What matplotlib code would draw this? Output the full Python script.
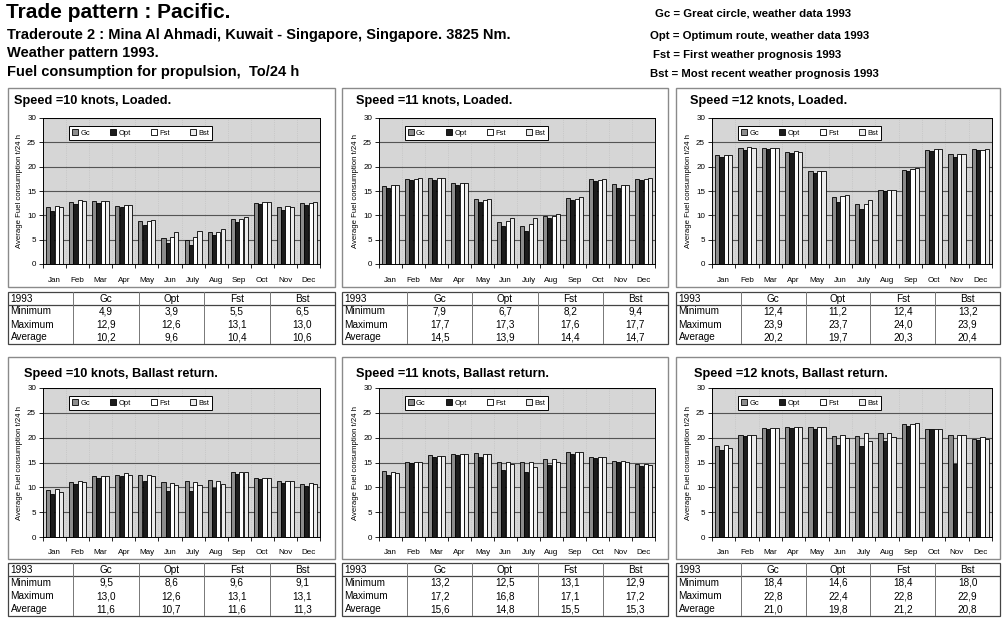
import matplotlib
matplotlib.use('Agg')
import matplotlib.pyplot as plt
from matplotlib.patches import Rectangle
import numpy as np

plt.rcParams['font.family'] = ['Liberation Sans', 'DejaVu Sans']

# ── data ──
months = ['Jan', 'Feb', 'Mar', 'Apr', 'May', 'Jun', 'July', 'Aug', 'Sep', 'Oct', 'Nov', 'Dec']
series = ['Gc', 'Opt', 'Fst', 'Bst']
row_labels = ['Minimum', 'Maximum', 'Average']

titles = [
    'Speed =10 knots, Loaded.', 'Speed =11 knots, Loaded.', 'Speed =12 knots, Loaded.',
    'Speed =10 knots, Ballast return.', 'Speed =11 knots, Ballast return.', 'Speed =12 knots, Ballast return.',
]

# monthly values (Gc, Opt, Fst, Bst)
l10_gc = [11.8, 12.8, 12.9, 12.0, 8.9, 5.3, 4.9, 6.5, 9.2, 12.6, 11.8, 12.6]
l10_opt = [10.9, 12.3, 12.6, 11.8, 8.1, 4.4, 3.9, 5.9, 8.7, 12.3, 11.1, 12.1]
l10_fst = [12.0, 13.1, 12.9, 12.2, 8.8, 5.6, 5.5, 6.6, 9.3, 12.8, 11.9, 12.6]
l10_bst = [11.8, 12.9, 13.0, 12.1, 9.0, 6.5, 6.8, 7.1, 9.7, 12.8, 11.8, 12.8]

l11_gc = [16.1, 17.5, 17.7, 16.6, 13.3, 8.6, 7.9, 9.9, 13.5, 17.4, 16.5, 17.5]
l11_opt = [15.6, 17.2, 17.3, 16.3, 12.7, 7.8, 6.7, 9.5, 13.2, 17.0, 15.7, 17.2]
l11_fst = [16.3, 17.4, 17.6, 16.6, 13.2, 8.9, 8.2, 9.9, 13.4, 17.3, 16.3, 17.4]
l11_bst = [16.3, 17.6, 17.7, 16.6, 13.4, 9.4, 9.4, 10.3, 13.7, 17.4, 16.3, 17.6]

l12_gc = [22.3, 23.9, 23.9, 23.0, 19.2, 13.8, 12.4, 15.2, 19.4, 23.5, 22.7, 23.7]
l12_opt = [21.9, 23.4, 23.7, 22.8, 18.7, 12.8, 11.2, 14.9, 19.2, 23.2, 22.0, 23.5]
l12_fst = [22.5, 24.0, 23.9, 23.2, 19.2, 14.0, 12.4, 15.2, 19.6, 23.7, 22.7, 23.5]
l12_bst = [22.3, 23.9, 23.9, 23.1, 19.2, 14.1, 13.2, 15.2, 19.8, 23.7, 22.6, 23.7]

b10_gc = [9.5, 11.1, 12.2, 12.5, 12.5, 11.0, 11.2, 11.4, 13.0, 11.9, 11.2, 10.7]
b10_opt = [8.6, 10.7, 11.9, 12.3, 11.3, 9.2, 9.2, 9.9, 12.6, 11.7, 10.9, 10.2]
b10_fst = [9.6, 11.3, 12.2, 12.8, 12.5, 10.9, 11.1, 11.3, 13.1, 11.9, 11.3, 10.9]
b10_bst = [9.1, 11.1, 12.2, 12.5, 12.3, 10.5, 10.4, 10.7, 13.1, 11.9, 11.3, 10.7]

b11_gc = [13.2, 15.2, 16.5, 16.8, 17.0, 15.2, 15.2, 15.7, 17.2, 16.2, 15.4, 14.7]
b11_opt = [12.5, 14.9, 16.1, 16.6, 16.1, 13.4, 13.0, 14.4, 16.8, 15.9, 15.1, 14.2]
b11_fst = [13.1, 15.2, 16.4, 16.8, 16.8, 15.1, 15.1, 15.7, 17.1, 16.2, 15.4, 14.7]
b11_bst = [12.9, 15.2, 16.4, 16.8, 16.8, 14.6, 14.1, 15.1, 17.2, 16.2, 15.2, 14.4]

b12_gc = [18.4, 20.5, 21.9, 22.1, 22.1, 20.3, 20.3, 20.9, 22.8, 21.8, 20.5, 19.8]
b12_opt = [17.6, 20.3, 21.7, 21.9, 21.7, 18.6, 18.3, 19.3, 22.4, 21.7, 14.6, 19.5]
b12_fst = [18.5, 20.6, 21.9, 22.1, 22.2, 20.5, 21.0, 21.0, 22.8, 21.8, 20.6, 20.1]
b12_bst = [18.0, 20.5, 21.9, 22.1, 22.2, 20.0, 19.3, 20.1, 22.9, 21.8, 20.6, 19.8]

# summary tables: rows Minimum / Maximum / Average, cols Gc Opt Fst Bst
l10_tab = [[4.9, 3.9, 5.5, 6.5], [12.9, 12.6, 13.1, 13.0], [10.2, 9.6, 10.4, 10.6]]
l11_tab = [[7.9, 6.7, 8.2, 9.4], [17.7, 17.3, 17.6, 17.7], [14.5, 13.9, 14.4, 14.7]]
l12_tab = [[12.4, 11.2, 12.4, 13.2], [23.9, 23.7, 24.0, 23.9], [20.2, 19.7, 20.3, 20.4]]
b10_tab = [[9.5, 8.6, 9.6, 9.1], [13.0, 12.6, 13.1, 13.1], [11.6, 10.7, 11.6, 11.3]]
b11_tab = [[13.2, 12.5, 13.1, 12.9], [17.2, 16.8, 17.1, 17.2], [15.6, 14.8, 15.5, 15.3]]
b12_tab = [[18.4, 14.6, 18.4, 18.0], [22.8, 22.4, 22.8, 22.9], [21.0, 19.8, 21.2, 20.8]]

panels = [
    (l10_gc, l10_opt, l10_fst, l10_bst), (l11_gc, l11_opt, l11_fst, l11_bst),
    (l12_gc, l12_opt, l12_fst, l12_bst), (b10_gc, b10_opt, b10_fst, b10_bst),
    (b11_gc, b11_opt, b11_fst, b11_bst), (b12_gc, b12_opt, b12_fst, b12_bst),
]
tables = [l10_tab, l11_tab, l12_tab, b10_tab, b11_tab, b12_tab]

# ── layout (pixel coords, y from top) ──
W, H = 1005, 621
BAR_COLORS = ['#8c8c8c', '#1c1c1c', '#ffffff', '#ebebeb']
col_box = [(8, 335), (342, 668), (676, 1000)]
col_ax = [(43, 320), (379, 655), (712, 992)]
title_x = [[14, 356, 690], [24, 356, 694]]
rows = [
    dict(box=(88, 287), title=101, ax=(118, 264), tab=(292, 344)),
    dict(box=(357, 559), title=374, ax=(388, 537), tab=(563, 616)),
]


def fx(x):
    return x / W


def fy(y):
    return 1 - y / H


def fmt(v):
    return f'{v:.1f}'.replace('.', ',')


fig = plt.figure(figsize=(W / 100, H / 100), dpi=100)
fig.patch.set_facecolor('white')

# header
fig.text(fx(6), fy(13), 'Trade pattern : Pacific.', fontsize=15, fontweight='bold', va='center')
fig.text(fx(7), fy(35), 'Traderoute 2 : Mina Al Ahmadi, Kuwait - Singapore, Singapore. 3825 Nm.',
         fontsize=10.5, fontweight='bold', va='center')
fig.text(fx(7), fy(53), 'Weather pattern 1993.', fontsize=10.5, fontweight='bold', va='center')
fig.text(fx(7), fy(72), 'Fuel consumption for propulsion,  To/24 h', fontsize=10.5, fontweight='bold', va='center')
notes = [(655, 14, 'Gc = Great circle, weather data 1993'),
         (650, 36, 'Opt = Optimum route, weather data 1993'),
         (653, 55, 'Fst = First weather prognosis 1993'),
         (650, 74, 'Bst = Most recent weather prognosis 1993')]
for x, y, t in notes:
    fig.text(fx(x), fy(y), t, fontsize=8.2, fontweight='bold', va='center')

x = np.arange(len(months))
width = 0.18
offsets = [-0.28, -0.095, 0.095, 0.28]

for i, (vals, tab) in enumerate(zip(panels, tables)):
    r, c = divmod(i, 3)
    rw = rows[r]
    bx0, bx1 = col_box[c]
    by0, by1 = rw['box']
    fig.patches.append(Rectangle((fx(bx0), fy(by1)), fx(bx1 - bx0), (by1 - by0) / H,
                                 transform=fig.transFigure, fill=False, edgecolor='#8a8a8a', lw=1.0))
    fig.text(fx(title_x[r][c]), fy(rw['title']), titles[i], fontsize=9.2, fontweight='bold', va='center')

    ax0, ax1 = col_ax[c]
    ay0, ay1 = rw['ax']
    ax = fig.add_axes([fx(ax0), fy(ay1), fx(ax1 - ax0), (ay1 - ay0) / H])
    ax.set_facecolor('#d6d6d6')
    for j, (s, v) in enumerate(zip(series, vals)):
        ax.bar(x + offsets[j], v, width, color=BAR_COLORS[j], edgecolor='black', linewidth=0.6,
               label=s, zorder=3)
    ax.set_xlim(-0.5, len(months) - 0.5)
    ax.set_ylim(0, 30)
    ax.set_yticks(range(0, 31, 5))
    ax.set_xticks(x)
    ax.set_xticklabels(months)
    ax.set_xticks(np.arange(-0.5, len(months), 1), minor=True)
    ax.tick_params(axis='x', which='major', length=0, labelsize=5.8, pad=9)
    ax.tick_params(axis='x', which='minor', length=3, width=0.6)
    ax.tick_params(axis='y', length=3, width=0.6, labelsize=5.8, pad=2)
    ax.yaxis.grid(True, color='#555555', lw=0.8, zorder=1)
    ax.xaxis.grid(True, which='minor', color='#bdbdbd', lw=0.5, ls=':', zorder=1)
    for sp in ax.spines.values():
        sp.set_linewidth(0.7)
    ax.set_ylabel('Average Fuel consumption t/24 h', fontsize=5.6, labelpad=3)
    leg = ax.legend(ncol=4, loc='upper left', bbox_to_anchor=(0.08, 0.97), fontsize=5.4,
                    frameon=True, fancybox=False, edgecolor='black', framealpha=1,
                    handlelength=0.8, handleheight=0.8, handletextpad=0.3, columnspacing=2.7,
                    borderpad=0.4)
    leg.get_frame().set_linewidth(0.7)
    leg.set_zorder(5)

    # summary table
    ty0, ty1 = rw['tab']
    tax = fig.add_axes([fx(bx0), fy(ty1), fx(bx1 - bx0), (ty1 - ty0) / H])
    tax.set_xlim(0, 5)
    tax.set_ylim(4, 0)
    tax.axis('off')
    tax.add_patch(Rectangle((0, 0), 5, 4, fill=False, edgecolor='#444444', lw=0.9, clip_on=False))
    tax.plot([0, 5], [1, 1], color='#444444', lw=0.9)
    for k in range(1, 5):
        tax.plot([k, k], [0, 4], color='#777777', lw=0.7)
    tax.text(0.04, 0.55, '1993', fontsize=7.2, va='center', ha='left')
    for j, s in enumerate(series):
        tax.text(j + 1.5, 0.55, s, fontsize=7.2, va='center', ha='center')
    for rr, lab in enumerate(row_labels):
        tax.text(0.04, rr + 1.5, lab, fontsize=7.2, va='center', ha='left')
        for j in range(4):
            tax.text(j + 1.5, rr + 1.5, fmt(tab[rr][j]), fontsize=7.2, va='center', ha='center')

fig.savefig('out.png', dpi=100)
